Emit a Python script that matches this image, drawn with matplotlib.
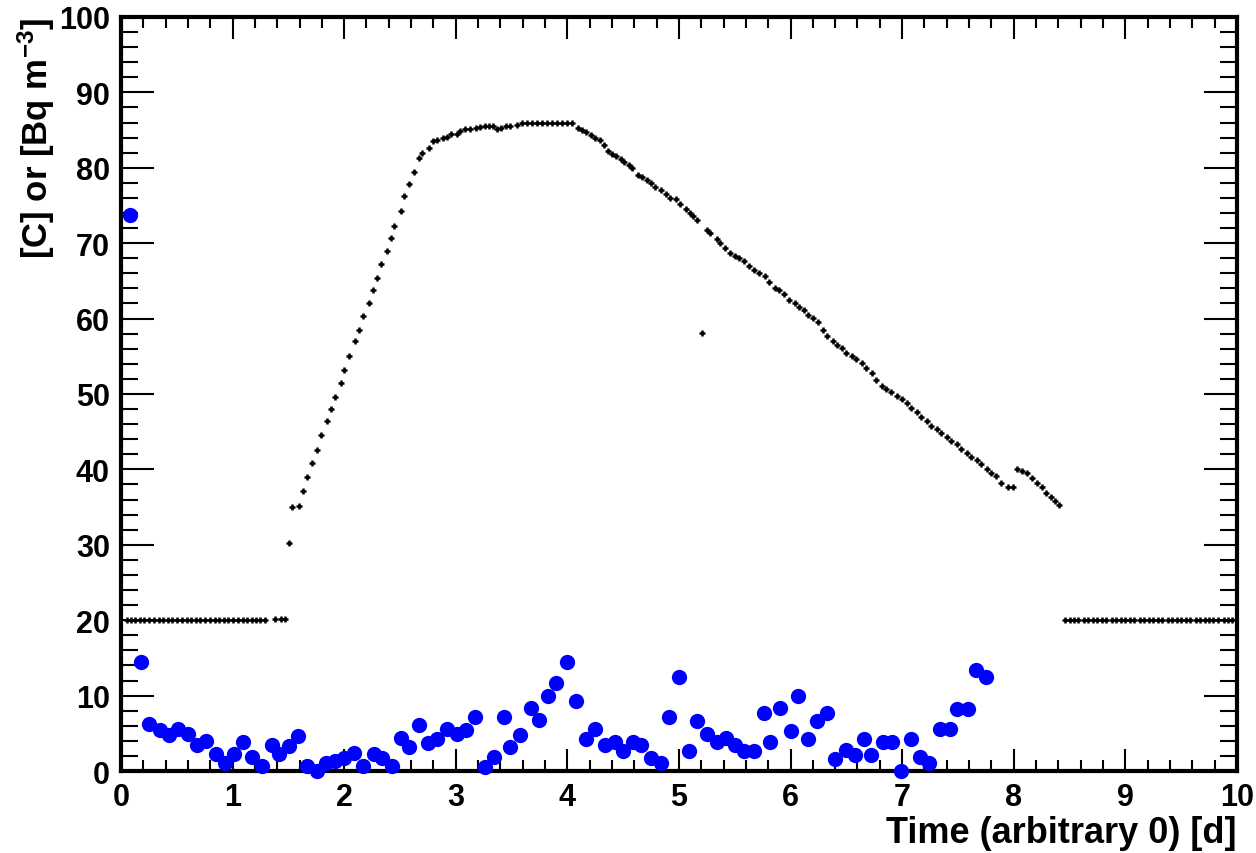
import matplotlib
matplotlib.use("Agg")
import matplotlib.pyplot as plt
from matplotlib.ticker import MultipleLocator

# Black series ([C]), roughly hourly samples in days
blackTime = [
    0.05, 0.09, 0.13, 0.17, 0.21, 0.25, 0.30, 0.34, 0.38, 0.42, 0.46, 0.50, 0.55, 0.59, 0.63, 0.67,
    0.71, 0.75, 0.80, 0.84, 0.88, 0.92, 0.96, 1.00, 1.05, 1.09, 1.13, 1.17, 1.21, 1.25, 1.29,
    1.38, 1.43, 1.47, 1.505, 1.535, 1.595,
    1.63, 1.67, 1.71, 1.76, 1.79, 1.85, 1.88, 1.92, 1.97, 2.00, 2.04, 2.10, 2.13, 2.17, 2.22, 2.26,
    2.29, 2.33, 2.38, 2.42, 2.45, 2.51, 2.54, 2.58, 2.63, 2.67, 2.70, 2.76, 2.80, 2.83, 2.89, 2.92,
    2.96, 3.01, 3.04, 3.08, 3.13, 3.18, 3.22, 3.26, 3.30, 3.33, 3.37, 3.41, 3.45, 3.49, 3.55, 3.59,
    3.64, 3.68, 3.73, 3.77, 3.82, 3.86, 3.91, 3.95, 4.00, 4.04,
    4.10, 4.13, 4.17, 4.21, 4.25, 4.29, 4.33, 4.36, 4.40, 4.44, 4.48, 4.51, 4.55, 4.58, 4.63, 4.67,
    4.71, 4.75, 4.79, 4.84, 4.88, 4.92, 4.97, 5.01, 5.06, 5.10, 5.13, 5.16, 5.21,
    5.25, 5.28, 5.34, 5.37, 5.41, 5.46, 5.50, 5.54, 5.58, 5.63, 5.67, 5.72, 5.77, 5.81, 5.86, 5.90,
    5.94, 5.99, 6.04, 6.08, 6.12, 6.16, 6.20, 6.25, 6.29, 6.33, 6.38, 6.42, 6.46, 6.50, 6.55, 6.59,
    6.64, 6.68, 6.73, 6.77, 6.82, 6.86, 6.90, 6.95, 7.00, 7.04, 7.08, 7.13, 7.17, 7.22, 7.26, 7.31,
    7.35, 7.40, 7.44, 7.49, 7.53, 7.58, 7.62, 7.67, 7.71, 7.76, 7.80, 7.84, 7.89, 7.95, 7.99,
    8.03, 8.07, 8.12, 8.16, 8.21, 8.25, 8.29, 8.33, 8.37, 8.41,
    8.46, 8.50, 8.54, 8.58, 8.63, 8.67, 8.71, 8.75, 8.79, 8.83, 8.88, 8.92, 8.96, 9.00, 9.04, 9.08,
    9.13, 9.17, 9.21, 9.25, 9.29, 9.33, 9.38, 9.42, 9.46, 9.50, 9.54, 9.58, 9.63, 9.67, 9.71, 9.75,
    9.79, 9.83, 9.88, 9.92, 9.96,
]
blackValue = [
    20.0, 20.0, 20.0, 20.0, 20.0, 20.0, 20.0, 20.0, 20.0, 20.0, 20.0, 20.0, 20.0, 20.0, 20.0, 20.0,
    20.0, 20.0, 20.0, 20.0, 20.0, 20.0, 20.0, 20.0, 20.0, 20.0, 20.0, 20.0, 20.0, 20.0, 20.0,
    20.2, 20.2, 20.2, 30.2, 35.0, 35.1,
    37.1, 39.0, 40.8, 42.6, 44.5, 46.4, 48.0, 49.6, 51.4, 53.2, 55.1, 57.0, 58.5, 60.4, 62.0, 63.8,
    65.4, 67.3, 68.9, 70.7, 72.3, 74.2, 76.3, 77.9, 79.5, 81.3, 82.0, 82.6, 83.5, 83.7, 84.0, 84.1,
    84.5, 84.5, 84.9, 85.1, 85.2, 85.3, 85.4, 85.6, 85.6, 85.5, 85.2, 85.3, 85.5, 85.5, 85.7, 85.9,
    85.9, 85.9, 85.9, 85.9, 85.9, 85.9, 85.9, 85.9, 85.9, 85.9,
    85.3, 85.0, 84.8, 84.4, 84.0, 83.7, 83.0, 82.2, 81.8, 81.5, 81.1, 80.8, 80.3, 80.0, 79.1, 78.8,
    78.4, 78.0, 77.4, 77.0, 76.5, 76.0, 75.8, 75.2, 74.5, 74.0, 73.6, 73.1, 58.1,
    71.8, 71.3, 70.6, 70.0, 69.4, 68.7, 68.3, 68.0, 67.6, 67.0, 66.4, 66.1, 65.7, 64.8, 64.1, 63.8,
    63.2, 62.5, 62.0, 61.6, 61.1, 60.5, 60.1, 59.5, 58.5, 57.7, 57.0, 56.5, 56.1, 55.4, 55.0, 54.7,
    54.1, 53.5, 52.8, 51.9, 51.0, 50.7, 50.2, 49.7, 49.3, 48.8, 48.2, 47.6, 47.0, 46.4, 45.8, 45.4,
    44.8, 44.3, 43.7, 43.3, 42.7, 42.2, 41.7, 41.2, 40.7, 40.1, 39.5, 39.1, 38.2, 37.6, 37.6,
    40.1, 39.8, 39.5, 38.9, 38.2, 37.6, 36.9, 36.3, 35.8, 35.3,
    20.0, 20.0, 20.0, 20.0, 20.0, 20.0, 20.0, 20.0, 20.0, 20.0, 20.0, 20.0, 20.0, 20.0, 20.0, 20.0,
    20.0, 20.0, 20.0, 20.0, 20.0, 20.0, 20.0, 20.0, 20.0, 20.0, 20.0, 20.0, 20.0, 20.0, 20.0, 20.0,
    20.0, 20.0, 20.0, 20.0, 20.0,
]

# Blue series ([Bq m-3]), about every 2 hours
blueTime = [
    0.08, 0.18, 0.25, 0.35, 0.43, 0.51, 0.60, 0.68, 0.76, 0.85, 0.93, 1.01, 1.09, 1.17, 1.26, 1.35,
    1.42, 1.51, 1.59, 1.67, 1.76, 1.84, 1.92, 2.00, 2.09, 2.17, 2.27, 2.34, 2.43, 2.51, 2.58, 2.67,
    2.75, 2.83, 2.92, 3.01, 3.09, 3.17, 3.26, 3.34, 3.43, 3.49, 3.58, 3.67, 3.75, 3.83, 3.90, 4.00,
    4.08, 4.17, 4.25, 4.34, 4.43, 4.50, 4.59, 4.66, 4.75, 4.84, 4.91, 5.00, 5.09, 5.16, 5.25, 5.34,
    5.42, 5.50, 5.58, 5.67, 5.76, 5.82, 5.91, 6.00, 6.07, 6.16, 6.24, 6.33, 6.40, 6.50, 6.58, 6.66,
    6.72, 6.83, 6.91, 6.99, 7.08, 7.16, 7.24, 7.34, 7.43, 7.49, 7.59, 7.66, 7.75,
]
blueValue = [
    73.8, 14.4, 6.2, 5.5, 4.8, 5.6, 4.9, 3.4, 4.0, 2.2, 1.0, 2.2, 3.9, 1.8, 0.7, 3.4,
    2.2, 3.3, 4.6, 0.7, 0.0, 1.0, 1.3, 1.7, 2.4, 0.7, 2.2, 1.7, 0.7, 4.4, 3.2, 6.1,
    3.7, 4.3, 5.6, 4.9, 5.5, 7.2, 0.5, 1.8, 7.2, 3.2, 4.8, 8.3, 6.8, 9.9, 11.7, 14.4,
    9.3, 4.2, 5.6, 3.4, 3.9, 2.7, 3.9, 3.4, 1.7, 1.0, 7.2, 12.5, 2.7, 6.6, 4.9, 3.9,
    4.4, 3.4, 2.7, 2.7, 7.7, 3.8, 8.3, 5.3, 9.9, 4.3, 6.6, 7.7, 1.6, 2.8, 2.1, 4.3,
    2.1, 3.8, 3.8, 0.0, 4.3, 1.8, 1.1, 5.6, 5.6, 8.2, 8.2, 13.4, 12.5,
]

plt.rcParams['font.family'] = ['Liberation Sans', 'DejaVu Sans']
plt.rcParams['font.weight'] = 'bold'
plt.rcParams['mathtext.fontset'] = 'custom'
plt.rcParams['mathtext.rm'] = 'Liberation Sans:bold'
plt.rcParams['mathtext.bf'] = 'Liberation Sans:bold'
plt.rcParams['mathtext.default'] = 'bf'

fig = plt.figure(figsize=(12.56, 8.54), dpi=100)
ax = fig.add_axes([0.0963, 0.096, 0.8885, 0.883])

ax.plot(blackTime, blackValue, '+', color='black', markersize=5, markeredgewidth=1.8)
ax.plot(blueTime, blueValue, 'o', color=(0, 0, 1), markersize=11, markeredgewidth=0,
        clip_on=False, zorder=3)

ax.set_xlim(0, 10)
ax.set_ylim(0, 100)
ax.xaxis.set_major_locator(MultipleLocator(1))
ax.xaxis.set_minor_locator(MultipleLocator(0.2))
ax.yaxis.set_major_locator(MultipleLocator(10))
ax.yaxis.set_minor_locator(MultipleLocator(2))

ax.tick_params(which='both', direction='in', top=True, right=True, width=1.5, labelsize=22, pad=8)
ax.tick_params(axis='x', which='major', length=16)
ax.tick_params(axis='x', which='minor', length=8)
ax.tick_params(axis='y', which='major', length=24)
ax.tick_params(axis='y', which='minor', length=12)
for label in ax.get_xticklabels() + ax.get_yticklabels():
    label.set_fontweight('bold')

for spine in ax.spines.values():
    spine.set_linewidth(3)

ax.set_xlabel("Time (arbitrary 0) [d]", fontsize=26, fontweight='bold', loc='right')
ax.xaxis.set_label_coords(1.0, -0.058)
ax.set_ylabel(r"[C] or [Bq m$^{-3}$]", fontsize=25, fontweight='bold', loc='top')
ax.yaxis.set_label_coords(-0.057, 1.0)

fig.savefig("out.png", dpi=100)
plt.close()
